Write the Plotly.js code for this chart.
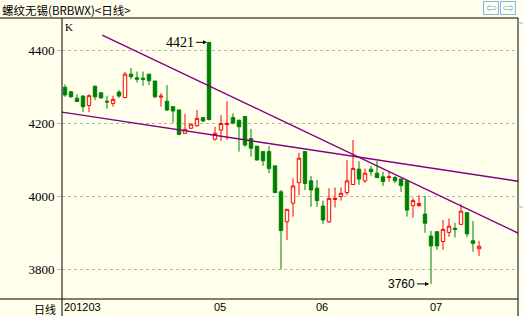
<!DOCTYPE html>
<html><head><meta charset="utf-8">
<script src="https://cdn.plot.ly/plotly-3.0.1.min.js"></script>
<style>html,body{margin:0;padding:0;background:#FFFFEC;}#chart{width:523px;height:316px;}</style>
</head><body><div id="chart"></div>
<script>
// OHLC daily bars
const opens  = [4298,4286,4268,4274,4248,4301,4283,4260,4254,4285,4270,4334,4324,4323,4334,4315,4271,4260,4245,4236,
                4172,4186,4193,4215,4421,4156,4181,4196,4215,4208,4218,4158,4137,4122,4122,4083,4012,3930,3981,4037,
                4122,4042,4022,3973,3930,3991,3999,4010,4032,4074,4042,4074,4063,4053,4051,4051,4047,4042,3974,3974,
                3951,3891,3903,3876,3901,3912,3923,3955,3878,3856];
const highs  = [4306,4288,4279,4276,4279,4302,4285,4275,4275,4290,4340,4351,4341,4341,4334,4316,4282,4304,4247,4237,
                4225,4198,4236,4216,4421,4190,4222,4260,4227,4209,4218,4184,4137,4122,4137,4083,4017,3965,4049,4119,
                4122,4055,4044,3988,4022,4024,4024,4099,4154,4096,4076,4083,4096,4067,4067,4055,4047,4042,3996,4003,
                4001,3905,3903,3935,3939,3927,3978,3955,3932,3878];
const lows   = [4272,4269,4258,4230,4230,4263,4267,4240,4245,4269,4268,4320,4311,4302,4304,4268,4245,4233,4201,4167,
                4170,4184,4190,4203,4207,4152,4151,4154,4197,4122,4135,4108,4098,4083,4063,4008,3800,3880,3944,4003,
                4017,3971,3971,3924,3927,3969,3988,4003,4032,4031,4037,4056,4049,4028,4040,4036,4012,3944,3941,3971,
                3900,3760,3853,3853,3889,3887,3921,3888,3848,3836];
const closes = [4277,4272,4259,4245,4275,4272,4269,4258,4265,4274,4334,4327,4320,4320,4316,4272,4274,4236,4233,4169,
                4183,4197,4213,4206,4210,4172,4199,4199,4200,4190,4140,4131,4099,4097,4076,4010,3906,3964,4028,4104,
                4035,4017,3988,3935,3994,3994,4008,4042,4076,4047,4063,4067,4051,4040,4053,4042,4029,3962,3988,3980,
                3926,3864,3864,3909,3918,3909,3959,3897,3871,3863];

// trend lines (end points: bar index, price)
const trendUpperX = [6.2, 75.5];
const trendUpperY = [4441, 3899];
const trendLowerX = [-0.5, 75.5];
const trendLowerY = [4230, 4041];

// axis labels
const yTicks = [3800, 4000, 4200, 4400];
const monthLabels = ['201203', '05', '06', '07'];
const monthStart = [0, 25, 42, 61];

// marked extremes
const markHighIdx = 24, markHighVal = 4421;
const markLowIdx = 61, markLowVal = 3760;

const bars = opens.map((_, i) => i);
const BG = '#FFFFEC';

const traces = [
  {
    type: 'candlestick', x: bars, open: opens, high: highs, low: lows, close: closes,
    increasing: {line: {color: '#FF0000', width: 1}, fillcolor: BG},
    decreasing: {line: {color: '#008000', width: 1}, fillcolor: '#008000'},
    whiskerwidth: 0, hoverinfo: 'skip', showlegend: false
  },
  {type: 'scatter', mode: 'lines', x: trendUpperX, y: trendUpperY, line: {color: '#800080', width: 1.4}, showlegend: false, hoverinfo: 'skip'},
  {type: 'scatter', mode: 'lines', x: trendLowerX, y: trendLowerY, line: {color: '#800080', width: 1.4}, showlegend: false, hoverinfo: 'skip'}
];

// pixel -> paper helpers (plot area: x 62..518, y 18..299)
const PX = p => (p - 62) / 456;
const PY = q => (299 - q) / 281;

const annotations = [
  {xref: 'paper', yref: 'paper', x: PX(0), y: PY(0), xanchor: 'left', yanchor: 'top', showarrow: false,
   text: '螺纹无锡(BRBWX)&lt;日线&gt;', font: {family: 'Noto Sans CJK SC', size: 11.5, color: '#000'}},
  {xref: 'paper', yref: 'paper', x: PX(63), y: PY(19), xanchor: 'left', yanchor: 'top', showarrow: false,
   text: 'K', font: {family: 'Liberation Serif', size: 11, color: '#000'}},
  {xref: 'paper', yref: 'paper', x: PX(58), y: PY(299), xanchor: 'right', yanchor: 'top', showarrow: false,
   text: '日线', font: {family: 'Noto Sans CJK SC', size: 11, color: '#000'}},
  {xref: 'paper', yref: 'paper', x: PX(491), y: PY(8), xanchor: 'center', yanchor: 'middle', showarrow: false,
   text: '⇦', font: {family: 'DejaVu Sans', size: 13, color: '#7fb2f0'}},
  {xref: 'paper', yref: 'paper', x: PX(508), y: PY(8), xanchor: 'center', yanchor: 'middle', showarrow: false,
   text: '⇨', font: {family: 'DejaVu Sans', size: 13, color: '#7fb2f0'}},
  {xref: 'x', yref: 'y', x: markHighIdx, y: markHighVal, text: String(markHighVal), showarrow: true,
   ax: -13, ay: 0, xanchor: 'right', arrowhead: 2, arrowsize: 0.8, arrowwidth: 1, standoff: 2, arrowcolor: '#000',
   font: {family: 'Liberation Serif', size: 14, color: '#000'}},
  {xref: 'x', yref: 'y', x: markLowIdx, y: markLowVal, text: String(markLowVal), showarrow: true,
   ax: -14, ay: 0, xanchor: 'right', arrowhead: 2, arrowsize: 0.8, arrowwidth: 1, standoff: 2, arrowcolor: '#000',
   font: {family: 'Liberation Sans', size: 12, color: '#000'}}
];
monthLabels.forEach((m, i) => annotations.push({
  xref: 'x', yref: 'paper', x: monthStart[i] - 0.5, y: PY(299), xanchor: 'left', yanchor: 'top', showarrow: false,
  text: m, font: {family: 'Liberation Sans', size: 11, color: '#000'}
}));

const L = {color: '#000', width: 1};
const shapes = [
  {type: 'line', xref: 'paper', yref: 'paper', x0: PX(0), x1: PX(518), y0: PY(18), y1: PY(18), line: L},
  {type: 'line', xref: 'paper', yref: 'paper', x0: PX(0), x1: PX(518), y0: PY(299), y1: PY(299), line: L},
  {type: 'line', xref: 'paper', yref: 'paper', x0: PX(62), x1: PX(62), y0: PY(18), y1: PY(316), line: L},
  {type: 'line', xref: 'paper', yref: 'paper', x0: PX(518), x1: PX(518), y0: PY(18), y1: PY(316), line: L},
  {type: 'line', xref: 'paper', yref: 'paper', x0: PX(518), x1: PX(523), y0: PY(23), y1: PY(23), line: {color: '#b0b0b0', width: 1}},
  {type: 'line', xref: 'paper', yref: 'paper', x0: PX(518), x1: PX(523), y0: PY(207), y1: PY(207), line: {color: '#b0b0b0', width: 1}},
  {type: 'rect', xref: 'paper', yref: 'paper', x0: PX(483.5), x1: PX(498.5), y0: PY(1.5), y1: PY(14.5), line: {color: '#7fb2f0', width: 1}},
  {type: 'rect', xref: 'paper', yref: 'paper', x0: PX(500.5), x1: PX(515.5), y0: PY(1.5), y1: PY(14.5), line: {color: '#7fb2f0', width: 1}}
];

const layout = {
  width: 523, height: 316,
  margin: {l: 62, r: 5, t: 18, b: 17, pad: 0},
  paper_bgcolor: BG, plot_bgcolor: BG,
  showlegend: false, boxgap: 0.18,
  xaxis: {range: [-0.5, 75.5], showgrid: false, zeroline: false, showticklabels: false, ticks: '',
          showline: false, rangeslider: {visible: false}, fixedrange: true},
  yaxis: {range: [3718.7, 4487.6], tickvals: yTicks, ticktext: yTicks.map(String), showgrid: true,
          gridcolor: '#b4b4b4', griddash: 'dot', gridwidth: 1, zeroline: false, showline: false,
          ticks: 'outside', ticklen: 4, tickcolor: '#b4b4b4',
          tickfont: {family: 'Liberation Serif', size: 13, color: '#000'}, fixedrange: true},
  annotations: annotations, shapes: shapes
};

Plotly.newPlot('chart', traces, layout, {staticPlot: true, displayModeBar: false});
</script>
</body></html>
